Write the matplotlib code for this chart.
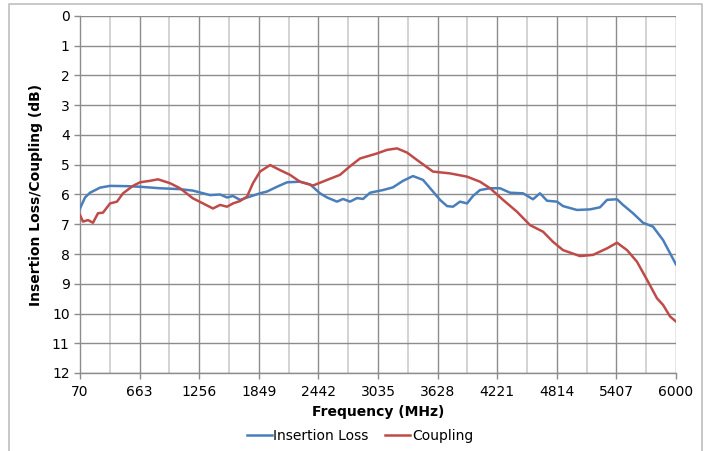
import matplotlib.pyplot as plt
from matplotlib.lines import Line2D
import numpy as np

# Insertion loss (blue)
il_freq = [70, 120, 170, 269, 369, 538, 667, 866, 1065, 1194, 1364, 1463, 1533,
           1592, 1662, 1762, 1861, 1931, 2030, 2130, 2259, 2359, 2458, 2528,
           2627, 2687, 2757, 2826, 2886, 2956, 3085, 3184, 3284, 3383, 3483,
           3582, 3652, 3722, 3781, 3851, 3921, 3980, 4050, 4150, 4249, 4349,
           4478, 4577, 4647, 4717, 4816, 4876, 5015, 5145, 5244, 5314, 5413,
           5473, 5572, 5672, 5771, 5871, 6000]
il_db = [6.47, 6.10, 5.94, 5.77, 5.71, 5.72, 5.74, 5.79, 5.82, 5.87, 6.02, 6.00,
         6.10, 6.05, 6.18, 6.07, 5.96, 5.90, 5.74, 5.59, 5.57, 5.66, 5.96, 6.10,
         6.24, 6.15, 6.24, 6.12, 6.15, 5.94, 5.85, 5.76, 5.54, 5.38, 5.51, 5.90,
         6.18, 6.39, 6.41, 6.24, 6.30, 6.05, 5.85, 5.79, 5.79, 5.94, 5.96, 6.16,
         5.96, 6.21, 6.24, 6.39, 6.52, 6.50, 6.43, 6.18, 6.16, 6.35, 6.63, 6.95,
         7.08, 7.53, 8.35]

# Coupling (red)
cp_freq = [70, 100, 150, 199, 249, 299, 369, 438, 498, 597, 667, 767, 846, 966,
           1065, 1194, 1294, 1393, 1463, 1533, 1592, 1662, 1732, 1791, 1861,
           1961, 2060, 2160, 2259, 2388, 2528, 2657, 2757, 2856, 3025, 3125,
           3224, 3324, 3423, 3582, 3751, 3921, 4050, 4150, 4279, 4418, 4548,
           4677, 4776, 4876, 5045, 5174, 5314, 5413, 5513, 5612, 5712, 5811,
           5871, 5941, 6000]
cp_db = [6.69, 6.91, 6.86, 6.95, 6.63, 6.61, 6.30, 6.24, 5.96, 5.71, 5.59, 5.54,
         5.49, 5.62, 5.79, 6.13, 6.30, 6.47, 6.35, 6.41, 6.30, 6.22, 6.07, 5.62,
         5.23, 5.01, 5.18, 5.34, 5.57, 5.70, 5.51, 5.34, 5.05, 4.79, 4.62, 4.50,
         4.45, 4.59, 4.84, 5.23, 5.29, 5.40, 5.57, 5.79, 6.18, 6.58, 7.03, 7.25,
         7.59, 7.87, 8.07, 8.03, 7.81, 7.62, 7.87, 8.26, 8.87, 9.49, 9.71, 10.10,
         10.27]

xticks = [70, 663, 1256, 1849, 2442, 3035, 3628, 4221, 4814, 5407, 6000]

fig = plt.figure(figsize=(7.12, 4.51), dpi=100)
ax = fig.add_axes([80/712, 1 - 373/451, 596/712, 357/451])

# grid: major vertical darker, minor lighter
minor = [(a + b) / 2 for a, b in zip(xticks[:-1], xticks[1:])]
for m in minor:
    ax.axvline(m, color='#d0d0d0', lw=1.3, zorder=1)
for t in xticks[1:]:
    ax.axvline(t, color='#8c8c8c', lw=1.0, zorder=1)
for yv in range(0, 13):
    ax.axhline(yv, color='#8c8c8c', lw=1.0, zorder=1)

ax.plot(il_freq, il_db, color='#4A7EBB', lw=1.8, label='Insertion Loss', zorder=3)
ax.plot(cp_freq, cp_db, color='#BE4B48', lw=1.8, label='Coupling', zorder=3)

ax.set_xlim(70, 6000)
ax.set_ylim(12, 0)
ax.set_xticks(xticks)
ax.set_xticklabels([str(t) for t in xticks])
ax.set_yticks(range(0, 13))
ax.tick_params(axis='both', labelsize=10, length=4, color='#8c8c8c', width=1)
ax.tick_params(axis='x', pad=5)
for s in ['top', 'right']:
    ax.spines[s].set_visible(False)
for s in ['left', 'bottom']:
    ax.spines[s].set_color('#8c8c8c')
    ax.spines[s].set_linewidth(1.0)

ax.set_xlabel('Frequency (MHz)', fontsize=10, fontweight='bold', labelpad=4)
ax.set_ylabel('Insertion Loss/Coupling (dB)', fontsize=10, fontweight='bold', labelpad=6)

handles = [Line2D([], [], color='#4A7EBB', lw=1.8),
           Line2D([], [], color='#BE4B48', lw=1.8)]
fig.legend(handles, ['Insertion Loss', 'Coupling'], loc='center',
           bbox_to_anchor=(360/712, 1 - 436/451), ncol=2, frameon=False,
           fontsize=10, handlelength=1.8, handletextpad=0.1, columnspacing=1.2)

# outer chart border (left, top, right)
fig.add_artist(Line2D([9/712, 9/712, 702/712, 702/712], [0, 1 - 4/451, 1 - 4/451, 0],
                      transform=fig.transFigure, color='#bfbfbf', lw=1.2))

fig.savefig('out.png', dpi=100)
